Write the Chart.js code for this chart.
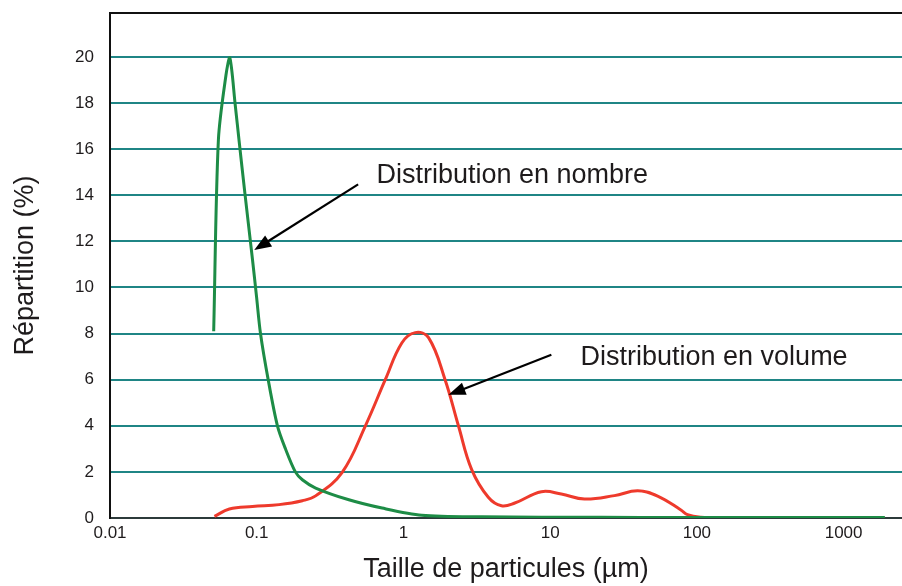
<!DOCTYPE html>
<html>
<head>
<meta charset="utf-8">
<script src="https://cdn.jsdelivr.net/npm/chart.js@4/dist/chart.umd.min.js"></script>
<style>
html,body{margin:0;padding:0;background:#fff;}
canvas{display:block;}
</style>
</head>
<body>
<canvas id="c" width="902" height="586"></canvas>
<script>
// Taille de particules (µm) et répartition (%)
const tailleNombre = [0.0509, 0.0548, 0.0617, 0.0656, 0.0714, 0.0760, 0.0830, 0.0936, 0.0997, 0.1061, 0.1197, 0.1384, 0.157, 0.1834, 0.2046, 0.252, 0.4246, 0.715, 1.335, 3.41, 22.3, 77.6, 1910];
const repNombre    = [8.1,    16.4,   19.2,   19.95,  17.9,   16.3,   14.1,   11.2,   9.6,    8.0,    6.0,    4.0,    3.0,   2.0,    1.66,   1.3,   0.79,   0.43,  0.12,  0.05, 0.03, 0.02, 0.02];

const tailleVolume = [0.0515, 0.0651, 0.0936, 0.142, 0.2046, 0.252, 0.3824, 0.5505, 0.752, 0.977, 1.203, 1.483, 1.922, 2.37, 2.918, 3.787, 4.66, 5.74, 8.71, 11.91, 17.14, 27.4, 39.5, 54.0, 77.8, 86.3, 106.4, 140, 1900];
const repVolume    = [0.07,   0.39,   0.5,    0.58,  0.75,   0.96,  1.98,   4.0,    6.0,   7.6,   8.04,  7.82,  6.0,   4.0,  2.1,   0.9,   0.53, 0.65, 1.14, 1.04,  0.82,  0.97, 1.18, 0.95, 0.35, 0.15, 0.03, 0.0, 0.0];

const xTicks = [0.01, 0.1, 1, 10, 100, 1000];
const xTickLabels = ["0.01", "0.1", "1", "10", "100", "1000"];
const yTicks = [0, 2, 4, 6, 8, 10, 12, 14, 16, 18, 20];

// Annotations (data coordinates: µm, %)
const annotations = [
  {text: "Distribution en nombre", tx: 0.655, ty: 14.51, fromX: 0.491, fromY: 14.47, toX: 0.0962, toY: 11.62},
  {text: "Distribution en volume", tx: 16.1, ty: 6.64, fromX: 10.19, fromY: 7.08, toX: 2.027, toY: 5.34}
];

const FONT = "'Liberation Sans', Arial, Helvetica, sans-serif";
const TXT = "#1e1b1c";

const annotPlugin = {
  id: 'annot',
  afterDraw(chart) {
    const ctx = chart.ctx, xs = chart.scales.x, ys = chart.scales.y, ca = chart.chartArea;
    ctx.save();
    // top frame line
    ctx.strokeStyle = '#111';
    ctx.lineWidth = 2;
    ctx.beginPath();
    ctx.moveTo(ca.left - 1, ca.top);
    ctx.lineTo(ca.right, ca.top);
    ctx.stroke();
    annotations.forEach(a => {
      const x1 = xs.getPixelForValue(a.fromX), y1 = ys.getPixelForValue(a.fromY);
      const x2 = xs.getPixelForValue(a.toX), y2 = ys.getPixelForValue(a.toY);
      const ang = Math.atan2(y2 - y1, x2 - x1);
      const L = 17, W = 6.5;
      const bx = x2 - L * Math.cos(ang), by = y2 - L * Math.sin(ang);
      ctx.strokeStyle = '#000';
      ctx.fillStyle = '#000';
      ctx.lineWidth = 2.2;
      ctx.beginPath();
      ctx.moveTo(x1, y1);
      ctx.lineTo(bx + 2 * Math.cos(ang), by + 2 * Math.sin(ang));
      ctx.stroke();
      ctx.beginPath();
      ctx.moveTo(x2, y2);
      ctx.lineTo(bx + W * Math.sin(ang), by - W * Math.cos(ang));
      ctx.lineTo(bx - W * Math.sin(ang), by + W * Math.cos(ang));
      ctx.closePath();
      ctx.fill();
      ctx.fillStyle = TXT;
      ctx.font = "27px " + FONT;
      ctx.textBaseline = 'alphabetic';
      ctx.textAlign = 'left';
      ctx.fillText(a.text, xs.getPixelForValue(a.tx), ys.getPixelForValue(a.ty));
    });
    ctx.restore();
  }
};

new Chart(document.getElementById('c'), {
  type: 'line',
  data: {
    datasets: [
      {
        label: 'Distribution en nombre',
        data: tailleNombre.map((v, i) => ({x: v, y: repNombre[i]})),
        borderColor: '#1d8c46',
        borderWidth: 3,
        pointRadius: 0,
        fill: false,
        tension: 0.3
      },
      {
        label: 'Distribution en volume',
        data: tailleVolume.map((v, i) => ({x: v, y: repVolume[i]})),
        borderColor: '#ee3a2c',
        borderWidth: 3,
        pointRadius: 0,
        fill: false,
        tension: 0.4
      }
    ]
  },
  options: {
    responsive: false,
    animation: false,
    devicePixelRatio: 1,
    layout: {padding: {top: 13, right: 0, left: 0, bottom: 0}},
    plugins: {legend: {display: false}, tooltip: {enabled: false}},
    scales: {
      x: {
        type: 'logarithmic',
        min: 0.01,
        max: 2500,
        grid: {display: false, drawTicks: false},
        border: {display: true, color: '#2c3a3a', width: 2},
        afterBuildTicks: s => { s.ticks = xTicks.map(v => ({value: v})); },
        afterFit: s => { s.height = 68; },
        ticks: {
          autoSkip: false,
          maxRotation: 0,
          padding: 5,
          color: TXT,
          font: {size: 17, family: FONT},
          callback: (v) => { const i = xTicks.indexOf(v); return i >= 0 ? xTickLabels[i] : ''; }
        },
        title: {
          display: true,
          text: 'Taille de particules (µm)',
          color: TXT,
          font: {size: 27, family: FONT},
          padding: {top: 0, bottom: 0}
        }
      },
      y: {
        min: 0,
        max: 21.9,
        grid: {color: '#1f8585', lineWidth: 2, drawTicks: true, tickLength: 16, tickColor: 'rgba(0,0,0,0)'},
        border: {display: true, color: '#111', width: 2},
        afterBuildTicks: s => { s.ticks = yTicks.map(v => ({value: v})); },
        afterFit: s => { s.width = 110; s.paddingTop = 0; s.paddingBottom = 0; },
        ticks: {
          padding: 0,
          color: TXT,
          font: {size: 17, family: FONT}
        },
        title: {
          display: true,
          text: 'Répartition (%)',
          color: TXT,
          font: {size: 27, family: FONT},
          padding: {top: 9, bottom: 0}
        }
      }
    }
  },
  plugins: [annotPlugin]
});
</script>
</body>
</html>
